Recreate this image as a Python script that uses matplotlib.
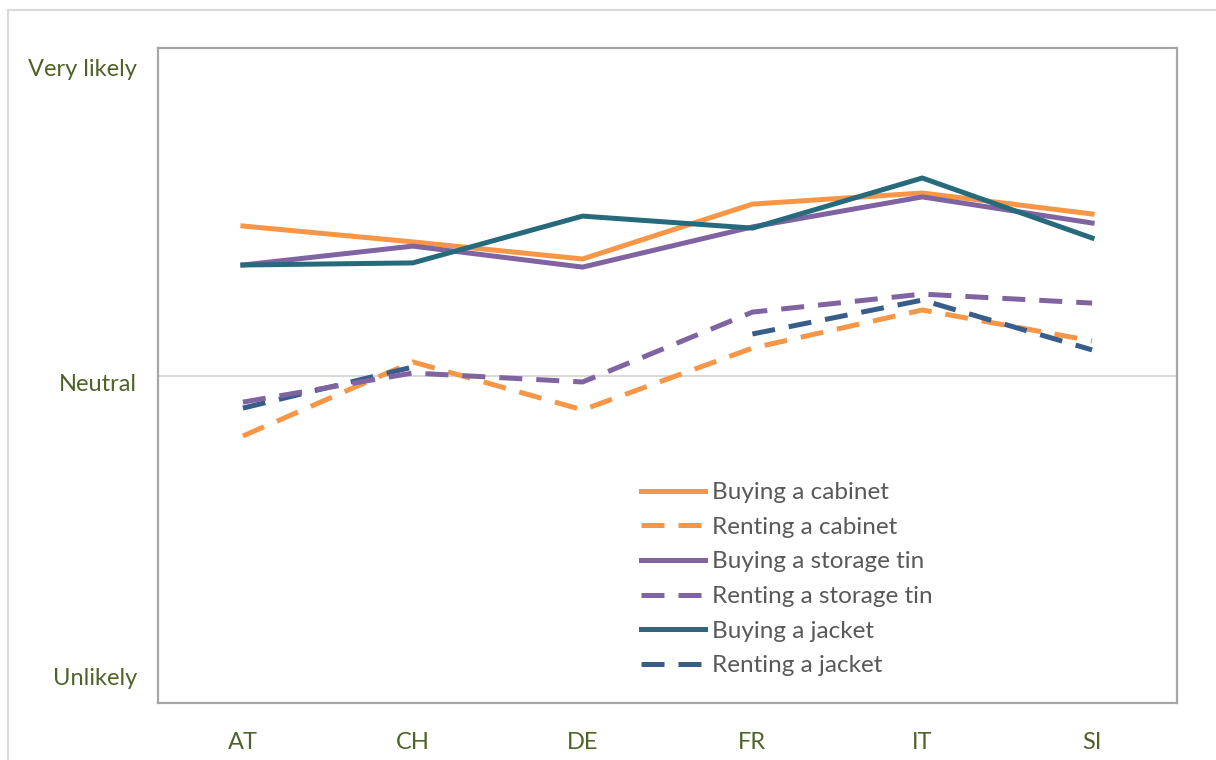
import matplotlib.pyplot as plt
import numpy as np
from matplotlib.lines import Line2D

# countries and scores (0 = neutral, 1 = very likely, -1 = unlikely)
countries = ['AT', 'CH', 'DE', 'FR', 'IT', 'SI']
buy_cabinet = [0.50, 0.447, 0.39, 0.573, 0.61, 0.54]
rent_cabinet = [-0.20, 0.047, -0.113, 0.093, 0.22, 0.117]
buy_tin = [0.37, 0.433, 0.363, 0.497, 0.597, 0.51]
rent_tin = [-0.087, 0.01, -0.02, 0.213, 0.273, 0.243]
buy_jacket = [0.37, 0.377, 0.533, 0.493, 0.66, 0.46]
rent_jacket = [-0.107, 0.03, np.nan, 0.14, 0.253, 0.087]

ytick_pos = [1.027, -0.02, -1.003]
ytick_labels = ['Very likely', 'Neutral', 'Unlikely']

orange = '#F79646'
purple = '#8064A2'
teal = '#276A7C'
blue = '#385D8A'
green = '#4F6228'
dash = (4.6, 2.8)

plt.rcParams['font.family'] = ['Lato', 'DejaVu Sans']

fig = plt.figure(figsize=(12.16, 7.6), dpi=100)
ax = fig.add_axes([158/1216, 1-703/760, (1177-158)/1216, (703-48)/760])

# outer chart border
fig.add_artist(Line2D([8/1216, 8/1216], [0, 1-10/760], transform=fig.transFigure, color='#D9D9D9', lw=1.5))
fig.add_artist(Line2D([8/1216, 1], [1-10/760, 1-10/760], transform=fig.transFigure, color='#D9D9D9', lw=1.5))

x = np.arange(len(countries))
ax.axhline(0, color='#D9D9D9', lw=1.5, zorder=1)

lw = 3.6
ax.plot(x, buy_cabinet, color=orange, lw=lw, label='Buying a cabinet')
ax.plot(x, rent_cabinet, color=orange, lw=lw, dashes=dash, label='Renting a cabinet')
ax.plot(x, buy_tin, color=purple, lw=lw, label='Buying a storage tin')
ax.plot(x, rent_jacket, color=blue, lw=lw, dashes=dash, label='Renting a jacket')
ax.plot(x, rent_tin, color=purple, lw=lw, dashes=dash, label='Renting a storage tin')
ax.plot(x, buy_jacket, color=teal, lw=lw, label='Buying a jacket')

ax.set_xlim(-0.5, len(countries) - 0.5)
ax.set_ylim(-(703-376)/300, (376-48)/300)
ax.set_xticks(x)
ax.set_xticklabels(countries)
ax.set_yticks(ytick_pos)
ax.set_yticklabels(ytick_labels)
ax.tick_params(length=0, labelsize=17, labelcolor=green)
ax.tick_params(axis='x', pad=21)
ax.tick_params(axis='y', pad=15)
for s in ax.spines.values():
    s.set_color('#A6A6A6')
    s.set_linewidth(1.6)

h, l = ax.get_legend_handles_labels()
order = ['Buying a cabinet', 'Renting a cabinet', 'Buying a storage tin',
         'Renting a storage tin', 'Buying a jacket', 'Renting a jacket']
hh = [h[l.index(o)] for o in order]
leg = ax.legend(hh, order, loc='upper left', bbox_to_anchor=(0.464, 0.352),
                frameon=False, fontsize=17.5, handlelength=2.65, handletextpad=0.3,
                labelspacing=0.56, labelcolor='#595959', borderaxespad=0)

fig.savefig('out.png', dpi=100)
